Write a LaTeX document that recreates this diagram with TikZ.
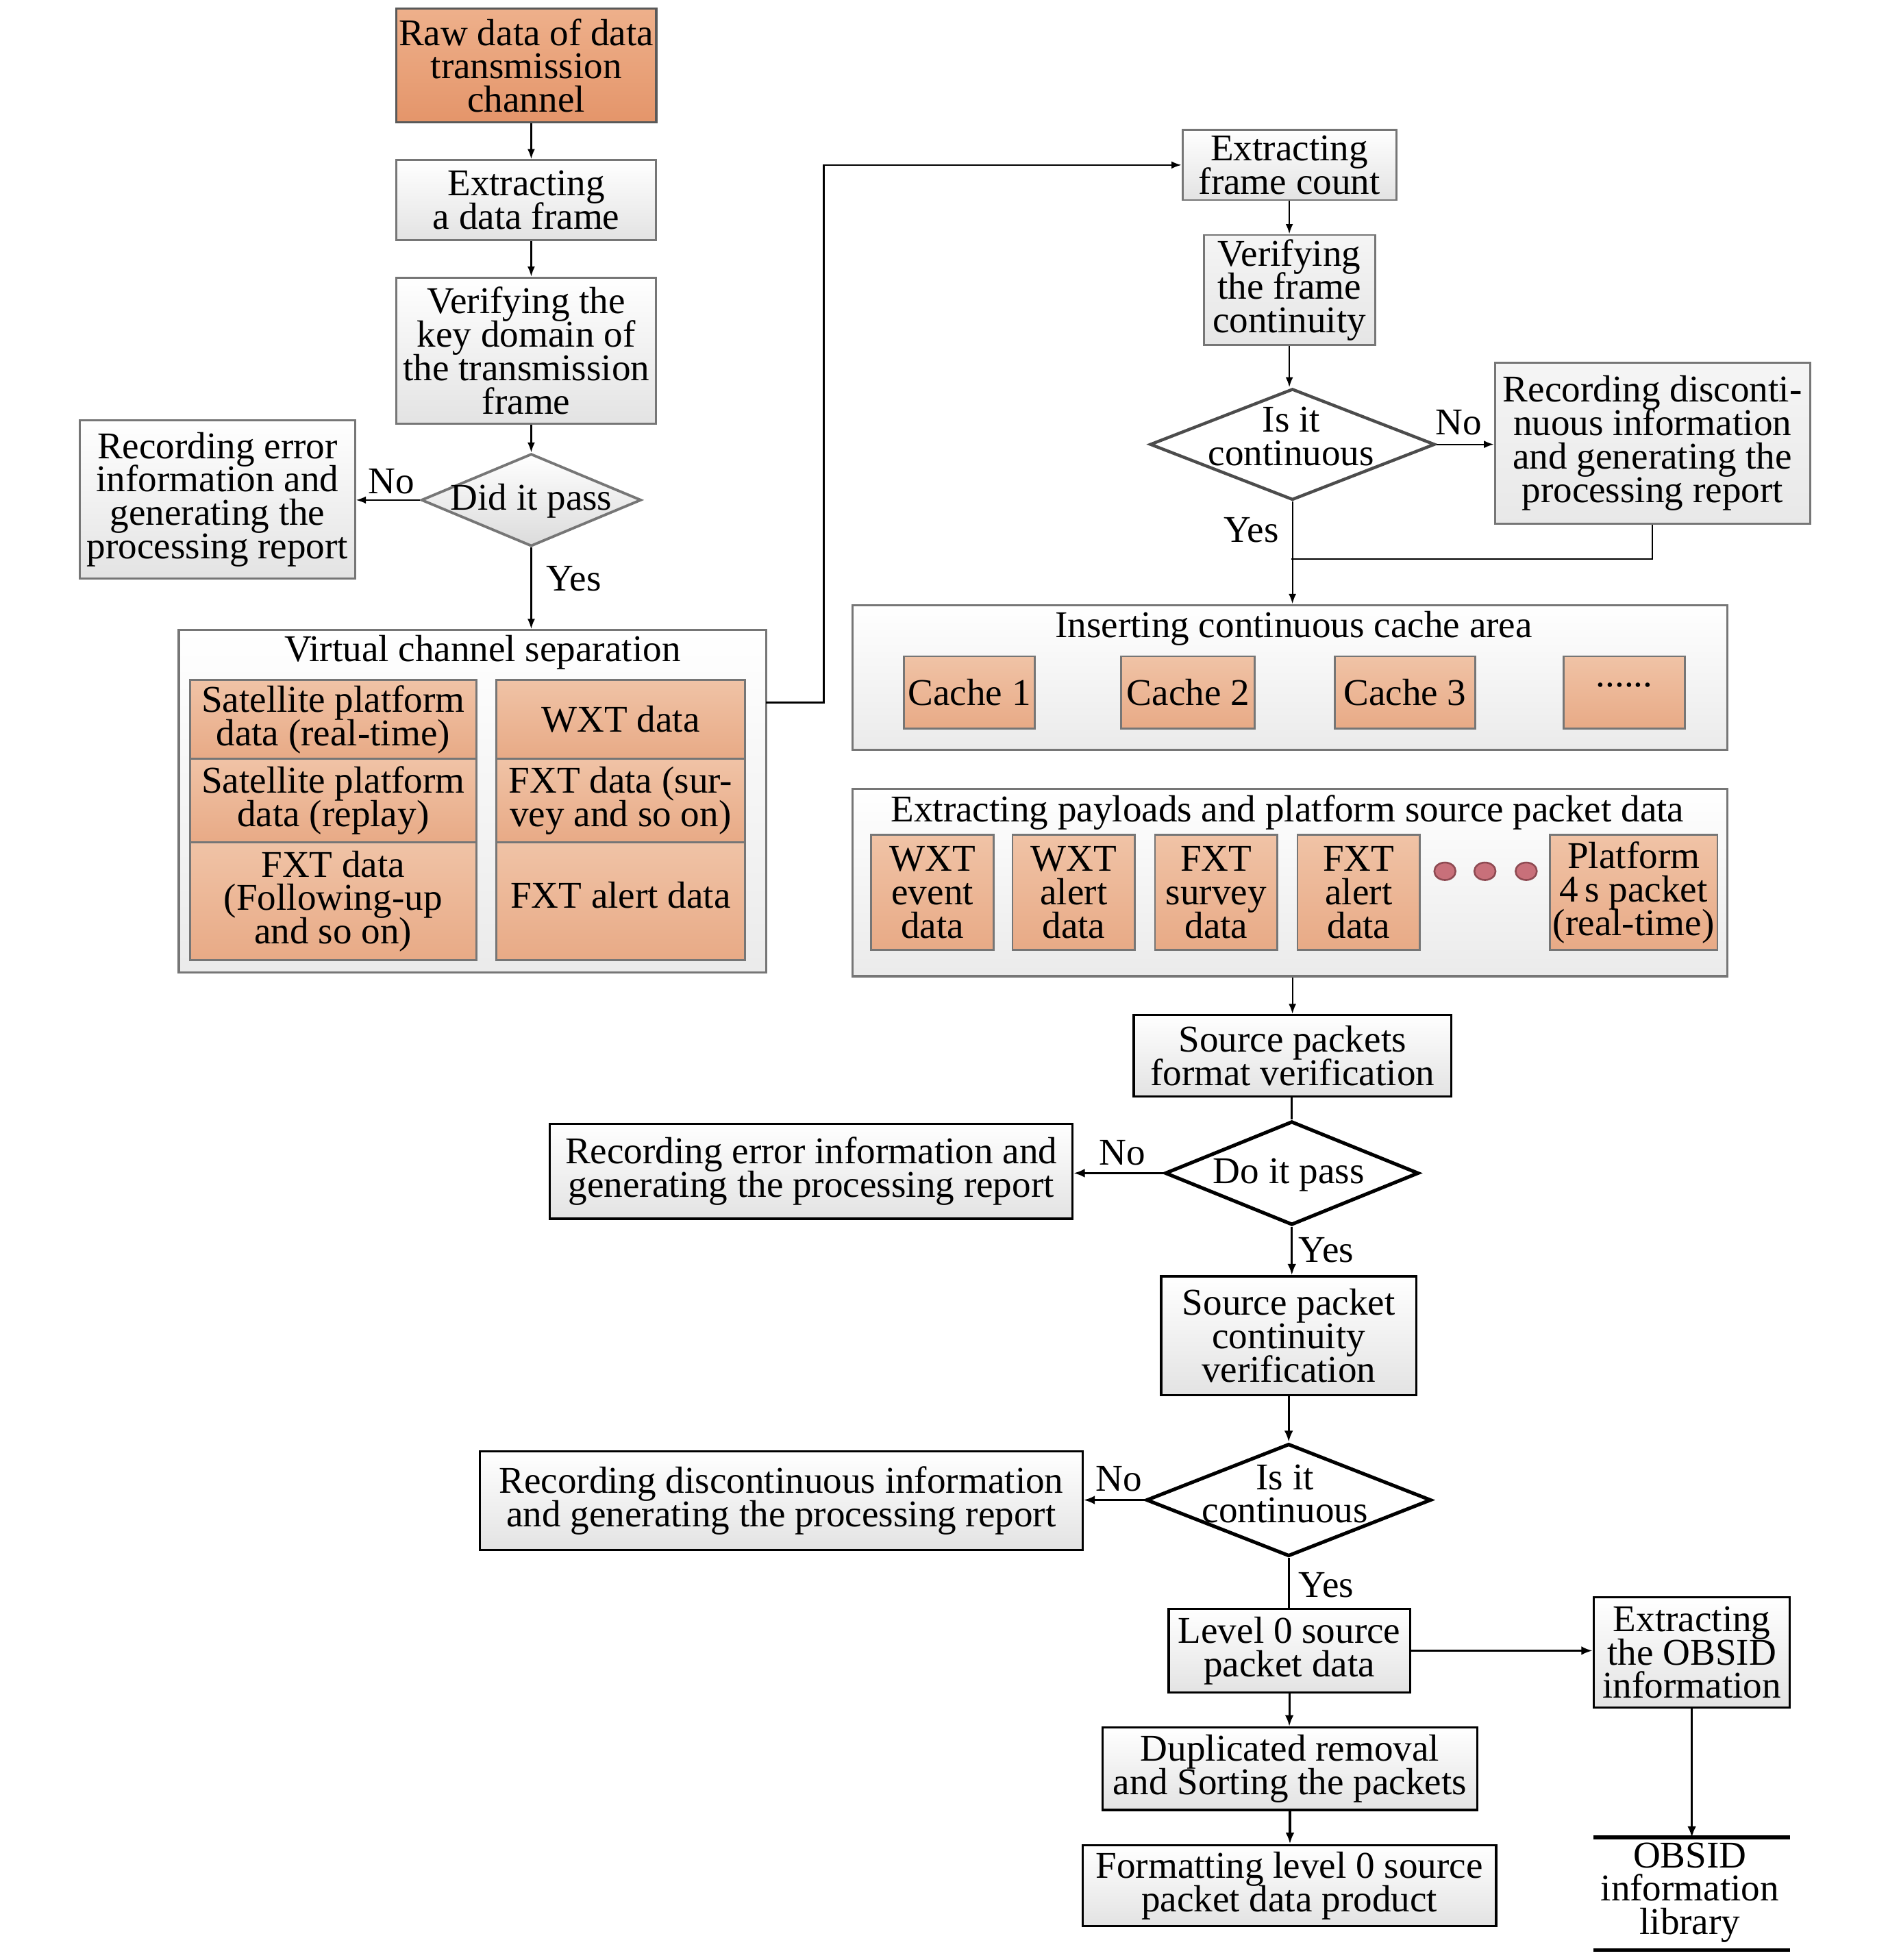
\documentclass[tikz,border=0pt]{standalone}
\usepackage{fontspec}
\setmainfont{Liberation Serif}
\usetikzlibrary{arrows.meta,shapes.geometric}
\definecolor{orT}{HTML}{F0C3A6}
\definecolor{orB}{HTML}{E8AA86}
\definecolor{rawT}{HTML}{EEB08B}
\definecolor{rawB}{HTML}{E4956A}
\definecolor{bord}{HTML}{767676}
\definecolor{dotc}{HTML}{C8707A}
\definecolor{dotb}{HTML}{8E4A52}
\newcommand\myfnt{\fontsize{8.6pt}{7.6pt}\selectfont\lineskiplimit-20pt\relax\lineskip0pt\relax}
\tikzset{
  txt/.style={font=\myfnt, align=center, inner sep=0pt},
  wh/.style 2 args={minimum width=#1*0.1mm, minimum height=#2*0.1mm},
  gbox/.style={txt, draw=bord, line width=0.45pt, top color=white, bottom color=black!11},
  kbox/.style={txt, draw=black, line width=0.5pt, top color=white, bottom color=black!11},
  obox/.style={txt, draw=bord, line width=0.45pt, top color=orT, bottom color=orB},
  rawbox/.style={txt, draw=black!65, line width=0.5pt, top color=rawT, bottom color=rawB},
  cont/.style={draw=bord, line width=0.5pt, top color=white, bottom color=black!8, inner sep=0pt},
  dia/.style={shape=diamond, inner sep=0pt},
  lab/.style={txt},
  arr/.style={line width=0.35pt, -{Latex[length=0.8mm,width=0.6mm]}},
  ln/.style={line width=0.35pt},
  karr/.style={line width=0.5pt, -{Latex[length=0.9mm,width=0.7mm]}},
  kln/.style={line width=0.5pt},
}
\begin{document}
\begin{tikzpicture}[x=0.1mm,y=-0.1mm]
\fill[white] (0,0) rectangle (1510,1568);
\path[use as bounding box] (0,0) rectangle (1510,1568);

% ---------- left column ----------
\node[rawbox, wh={208}{91}] (raw) at (421,52.5) {Raw data of data\\transmission\\channel};
\node[gbox, wh={208}{64}] (ext) at (421,160) {Extracting\\a data frame};
\node[gbox, wh={208}{117}] (ver) at (421,280.5) {Verifying the\\key domain of\\the transmission\\frame};
\node[dia, draw=bord, line width=0.6pt, top color=white, bottom color=black!14, wh={176}{74}] (d1) at (425,400) {};
\node[txt] (d1t) at (425,401) {Did it pass};
\node[gbox, wh={220}{127}] (err1) at (174,399.5) {Recording error\\information and\\generating the\\processing report};
\node[lab] (no1) at (313,385) {No};
\node[lab] (yes1) at (459,463) {Yes};

% virtual channel container
\node[cont, wh={470}{274}] (vc) at (378,641) {};
\node[txt] (vct) at (386,522) {Virtual channel separation};
\node[obox, wh={229}{63}] (a1) at (266.5,575.5) {Satellite platform\\data (real-time)};
\node[obox, wh={229}{67}] (a2) at (266.5,640.5) {Satellite platform\\data (replay)};
\node[obox, wh={229}{94}] (a3) at (266.5,721) {FXT data\\(Following-up\\and so on)};
\node[obox, wh={199}{63}] (b1) at (496.5,575.5) {WXT data};
\node[obox, wh={199}{67}] (b2) at (496.5,640.5) {FXT data (sur-\\vey and so on)};
\node[obox, wh={199}{94}] (b3) at (496.5,721) {\raisebox{1mm}{FXT alert data}};

\draw[arr] (d1.north |- raw.south) -- (d1.north |- ext.north);
\draw[arr] (d1.north |- ext.south) -- (d1.north |- ver.north);
\draw[arr] (d1.north |- ver.south) -- (d1.north);
\draw[arr] (d1.west) -- (err1.east |- d1.west);
\draw[arr] (d1.south) -- (d1.south |- vc.north);

% connector to the right column
\coordinate (vcout) at (613,562);
\coordinate (turn1) at (659,562);
\coordinate (turn2) at (659,132);

% ---------- right column, top ----------
\node[gbox, wh={171}{56}] (efc) at (1031.5,132) {Extracting\\frame count};
\node[gbox, wh={137}{88}, top color=black!4, bottom color=black!10] (vfc) at (1031.5,232) {Verifying\\the frame\\continuity};
\node[dia, draw=black!70, line width=0.7pt, fill=white, wh={228}{89}] (d2) at (1034,355.5) {};
\node[txt] (d2t) at (1033,349) {Is it\\continuous};
\node[gbox, wh={252}{129}, top color=black!4, bottom color=black!9] (rec2) at (1322,354.5) {Recording disconti-\\nuous information\\and generating the\\processing report};
\node[lab] (no2) at (1167,338) {No};
\node[lab] (yes2) at (1001,424) {Yes};

\draw[arr] (vcout) -- (turn1) -- (turn2) -- (efc.west);
\draw[arr] (efc.south) -- (vfc.north);
\draw[arr] (vfc.south) -- (vfc.south |- d2.north);
\draw[arr] (d2.east) -- (rec2.west |- d2.east);
\coordinate (mrg) at (1033,447);
\draw[ln] (rec2.south) -- (rec2.south |- mrg) -- (mrg);

% inserting container
\node[cont, wh={700}{116}] (ins) at (1032,542) {};
\node[txt] (inst) at (1035,503) {Inserting continuous cache area};
\node[obox, wh={105}{58}] (c1) at (775.5,554) {Cache 1};
\node[obox, wh={107}{58}] (c2) at (950.5,554) {Cache 2};
\node[obox, wh={112}{58}] (c3) at (1124,554) {Cache 3};
\node[obox, wh={97}{58}] (c4) at (1299.5,554) {\raisebox{1.2mm}{......}};
\draw[arr] (d2.south) -- (d2.south |- ins.north);

% extracting payloads container
\node[cont, wh={700}{150}] (exb) at (1032,706) {};
\node[txt] (exbt) at (1030,650) {Extracting payloads and platform source packet data};
\node[obox, wh={98}{92}] (p1) at (746,714) {WXT\\event\\data};
\node[obox, wh={98}{92}] (p2) at (859,714) {WXT\\alert\\data};
\node[obox, wh={98}{92}] (p3) at (973,714) {FXT\\survey\\data};
\node[obox, wh={98}{92}] (p4) at (1087,714) {FXT\\alert\\data};
\node[obox, wh={134}{92}] (p5) at (1307,714) {Platform\\4\,s packet\\(real-time)};
\node[ellipse, draw=dotb, line width=0.4pt, fill=dotc, wh={17}{14}, inner sep=0pt] (dt1) at (1156,697) {};
\node[ellipse, draw=dotb, line width=0.4pt, fill=dotc, wh={17}{14}, inner sep=0pt] (dt2) at (1188,697) {};
\node[ellipse, draw=dotb, line width=0.4pt, fill=dotc, wh={17}{14}, inner sep=0pt] (dt3) at (1221,697) {};

% ---------- lower part ----------
\node[kbox, wh={254}{65}] (spf) at (1034,844.5) {Source packets\\format verification};
\draw[arr] (exb.south -| spf.north) -- (spf.north);
\node[dia, draw=black, line width=0.8pt, fill=white, wh={203}{83}] (d3) at (1033.5,938.5) {};
\node[txt] (d3t) at (1031,940) {Do it pass};
\draw[kln] (spf.south -| d3.north) -- (d3.north);
\node[kbox, wh={418}{76}] (err3) at (649,937) {Recording error information and\\generating the processing report};
\draw[karr] (d3.west) -- (err3.east |- d3.west);
\node[lab] (no3) at (898,922) {No};
\node[lab] (yes3) at (1061,1000) {Yes};

\node[kbox, wh={204}{95}] (spc) at (1031,1068.5) {Source packet\\continuity\\verification};
\draw[karr] (d3.south) -- (d3.south |- spc.north);
\node[dia, draw=black, line width=0.8pt, fill=white, wh={228}{90}] (d4) at (1031,1200) {};
\node[txt] (d4t) at (1028,1195) {Is it\\continuous};
\draw[karr] (spc.south) -- (d4.north);
\node[kbox, wh={482}{79}] (rec4) at (625,1200.5) {Recording discontinuous information\\and generating the processing report};
\draw[karr] (d4.west) -- (rec4.east |- d4.west);
\node[lab] (no4) at (895,1183) {No};
\node[lab] (yes4) at (1061,1268) {Yes};

\node[kbox, wh={193}{67}] (l0) at (1031.5,1320.5) {Level 0 source\\packet data};
\draw[kln] (d4.south) -- (d4.south |- l0.north);
\node[kbox, wh={157}{88}] (obx) at (1353.5,1322) {Extracting\\the OBSID\\information};
\draw[karr] (l0.east) -- (l0.east -| obx.west);
\node[kbox, wh={300}{66}] (dup) at (1032,1415) {Duplicated removal\\and Sorting the packets};
\node[kbox, wh={331}{65}] (fmt) at (1031.5,1508.5) {Formatting level 0 source\\packet data product};
\draw[karr] (l0.south) -- (l0.south |- dup.north);
\draw[karr] (dup.south) -- (dup.south |- fmt.north);

% OBSID library
\coordinate (libTL) at (1275,1470);
\coordinate (libTR) at (1432,1470);
\coordinate (libBL) at (1275,1560);
\coordinate (libBR) at (1432,1560);
\draw[line width=0.85pt] (libTL) -- (libTR);
\draw[line width=0.85pt] (libBL) -- (libBR);
\node[txt] (lib) at (1352,1514) {OBSID\\information\\library};
\draw[karr] (obx.south) -- (obx.south |- libTL);
\end{tikzpicture}
\end{document}
